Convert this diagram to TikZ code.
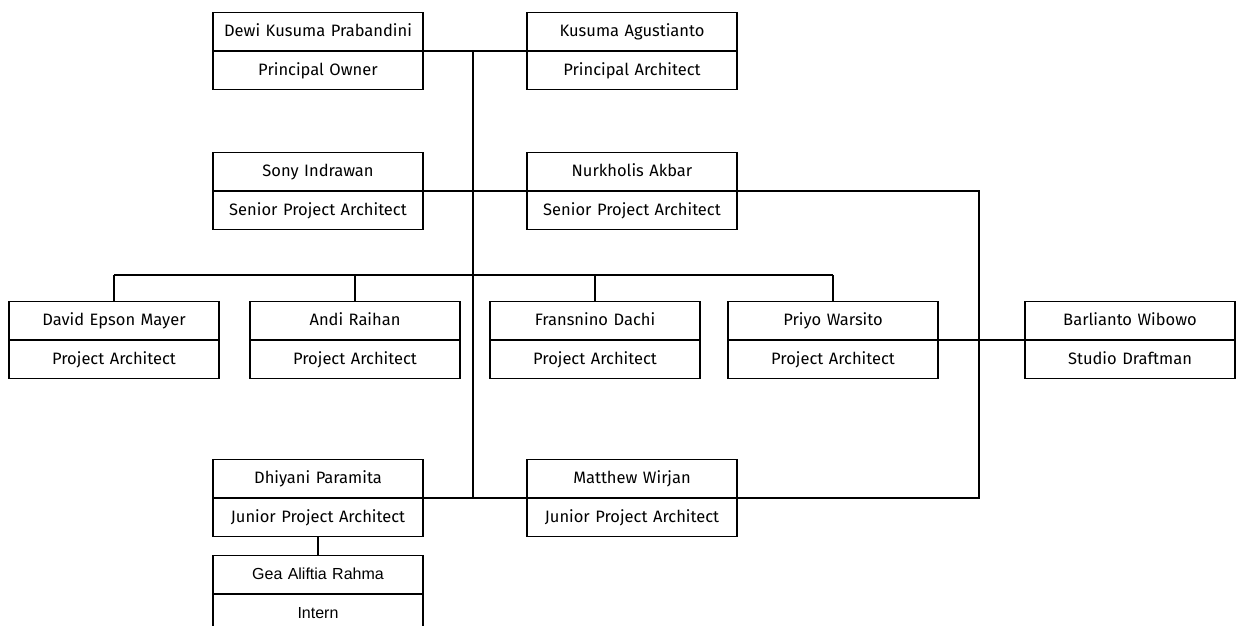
\documentclass[tikz,border=0pt]{standalone}
\usepackage{fontspec}
\setmainfont{Fira Sans}
\newfontfamily\arialfont{Liberation Sans}
\usetikzlibrary{shapes.multipart}
\newcommand\partstrut{\rule[-9.5pt]{0pt}{29pt}}

\begin{document}
\begin{tikzpicture}[x=1pt, y=-1pt,
    staff/.style={draw, line width=1.3pt, rectangle split, rectangle split parts=2,
      text width=200pt, align=center, inner xsep=5pt, inner ysep=4pt,
      font=\fontsize{16.5}{19}\selectfont},
    link/.style={line width=2pt}]
        \useasboundingbox (0,0) rectangle (1239,626);
        % top
        \node[staff] (dewi) at (318,51) {Dewi Kusuma Prabandini\partstrut \nodepart{two} Principal Owner\partstrut};
        \node[staff] (kusuma) at (632,51) {Kusuma Agustianto\partstrut \nodepart{two} Principal Architect\partstrut};
        \node[staff] (sony) at (318,191) {Sony Indrawan\partstrut \nodepart{two} Senior Project Architect\partstrut};
        \node[staff] (nurkholis) at (632,191) {Nurkholis Akbar\partstrut \nodepart{two} Senior Project Architect\partstrut};
        % project architects
        \node[staff] (david) at (114,340) {David Epson Mayer\partstrut \nodepart{two} Project Architect\partstrut};
        \node[staff] (andi) at (355,340) {Andi Raihan\partstrut \nodepart{two} Project Architect\partstrut};
        \node[staff] (fransnino) at (595,340) {Fransnino Dachi\partstrut \nodepart{two} Project Architect\partstrut};
        \node[staff] (priyo) at (833,340) {Priyo Warsito\partstrut \nodepart{two} Project Architect\partstrut};
        \node[staff] (barlianto) at (1130,340) {Barlianto Wibowo\partstrut \nodepart{two} Studio Draftman\partstrut};
        % juniors
        \node[staff] (dhiyani) at (318,498) {Dhiyani Paramita\partstrut \nodepart{two} Junior Project Architect\partstrut};
        \node[staff] (matthew) at (632,498) {Matthew Wirjan\partstrut \nodepart{two} Junior Project Architect\partstrut};
        \node[staff, font=\arialfont\fontsize{16}{18}\selectfont] (gea) at (318,594) {Gea Aliftia Rahma\partstrut \nodepart{two} Intern\partstrut};

        \coordinate (trunk) at (473,0);
        \coordinate (bus) at (0,275);
        \coordinate (rail) at (979,0);

        \draw[link] (dewi.text split east) -- (kusuma.text split west);
        \draw[link] (trunk |- dewi.text split east) -- (trunk |- dhiyani.text split east);
        \draw[link] (sony.text split east) -- (nurkholis.text split west);
        \draw[link] (nurkholis.text split east) -| (rail |- matthew.text split east) -- (matthew.text split east);
        \draw[link] (david.north |- bus) -- (priyo.north |- bus);
        \foreach \pa in {david, andi, fransnino, priyo}
          \draw[link] (\pa.north) -- (\pa.north |- bus);
        \draw[link] (priyo.text split east) -- (barlianto.text split west);
        \draw[link] (dhiyani.text split east) -- (matthew.text split west);
        \draw[link] (dhiyani.south) -- (gea.north);
      \end{tikzpicture}
\end{document}
